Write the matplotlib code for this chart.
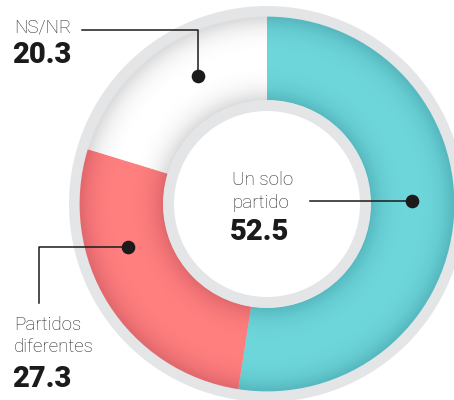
import numpy as np
import matplotlib
matplotlib.use("Agg")
import matplotlib.pyplot as plt
from matplotlib.patches import Circle
from matplotlib.colors import to_rgb

# data
categories = ["Un solo\npartido", "Partidos\ndiferentes", "NS/NR"]
values = [52.5, 27.3, 20.3]
value_labels = ["52.5", "27.3", "20.3"]

# layout (pixel units, y up)
W, H = 454, 400
CX, CY = 267, 196
R_GRAY_OUT, R_OUT, R_IN, R_WHITE = 198, 187, 104, 93
GRAY = "#E4E5E7"
INK = "#1c1a1a"
TXT = "#262626"
CENTER_COL = ["#6DD6DB", "#FF7E7E", "#FFFFFF"]
EDGE_COL = ["#55B8BE", "#E0676C", "#DADADA"]
DOT_FRAC = [0.47, 0.65, 0.61]          # where the dot sits inside each wedge
LABEL_FONT = ["Roboto", "DejaVu Sans"]
NUM_FONT = ["Roboto", "DejaVu Sans"]


def mix(a, b, w):
    a, b = np.array(to_rgb(a)), np.array(to_rgb(b))
    return tuple(a * (1 - w) + b * w)


def label(x, y, s):
    ax.text(x, y, s, fontsize=13.5, family=LABEL_FONT, fontweight="light",
            color=TXT, va="baseline", zorder=6)


def number(x, y, s):
    ax.text(x, y, s, fontsize=21, family=NUM_FONT, fontweight="black",
            color=INK, va="baseline", zorder=6)


fig = plt.figure(figsize=(W / 100, H / 100), dpi=100)
ax = fig.add_axes([0, 0, 1, 1])

ax.add_patch(Circle((CX, CY), R_GRAY_OUT, color=GRAY, lw=0, zorder=0))

# ring drawn as thin concentric pies to fake the radial shading
N = 40
edges = np.linspace(R_IN, R_OUT, N + 1)
wedges = None
for k in range(N):
    r0, r1 = edges[k], edges[k + 1]
    t = (k + 0.5) / N
    w = abs(2 * t - 1) ** 3
    cols = [mix(c, e, w) for c, e in zip(CENTER_COL, EDGE_COL)]
    wedges, _ = ax.pie(values, radius=r1 + 0.4, center=(CX, CY), startangle=90,
                       counterclock=False, colors=cols, frame=True,
                       wedgeprops=dict(width=r1 - r0 + 0.8, linewidth=0))

ax.add_patch(Circle((CX, CY), R_IN, color=GRAY, lw=0, zorder=3))
ax.add_patch(Circle((CX, CY), R_WHITE, color="white", lw=0, zorder=3))

# dots in the middle of the ring
r_dot = (R_IN + R_OUT) / 2
dots = []
for wdg, f in zip(wedges, DOT_FRAC):
    ang = np.deg2rad(wdg.theta2 - f * (wdg.theta2 - wdg.theta1))
    dots.append((CX + r_dot * np.cos(ang), CY + r_dot * np.sin(ang)))
for x, y in dots:
    ax.plot(x, y, "o", ms=8.8, color=INK, zorder=6)

lw = 1.1
# Un solo partido
(tx, ty) = dots[0]
ax.plot([310, tx], [ty, ty], color=INK, lw=lw, zorder=5)
label(232, 215, "Un solo")
label(232, 192, "partido")
number(230, 160, value_labels[0])

# Partidos diferentes
(rx, ry) = dots[1]
ax.plot([39, 39, rx], [97, ry, ry], color=INK, lw=lw, zorder=5)
label(14, 70, "Partidos")
label(14, 48, "diferentes")
number(12, 13, value_labels[1])

# NS/NR
(nx, ny) = dots[2]
ax.plot([82, nx, nx], [370, 370, ny], color=INK, lw=lw, zorder=5)
label(14, 368, categories[2])
number(12, 337, value_labels[2])

ax.set_xlim(0, W)
ax.set_ylim(0, H)
ax.set_aspect("equal")
ax.axis("off")

fig.savefig("out.png", dpi=100)
